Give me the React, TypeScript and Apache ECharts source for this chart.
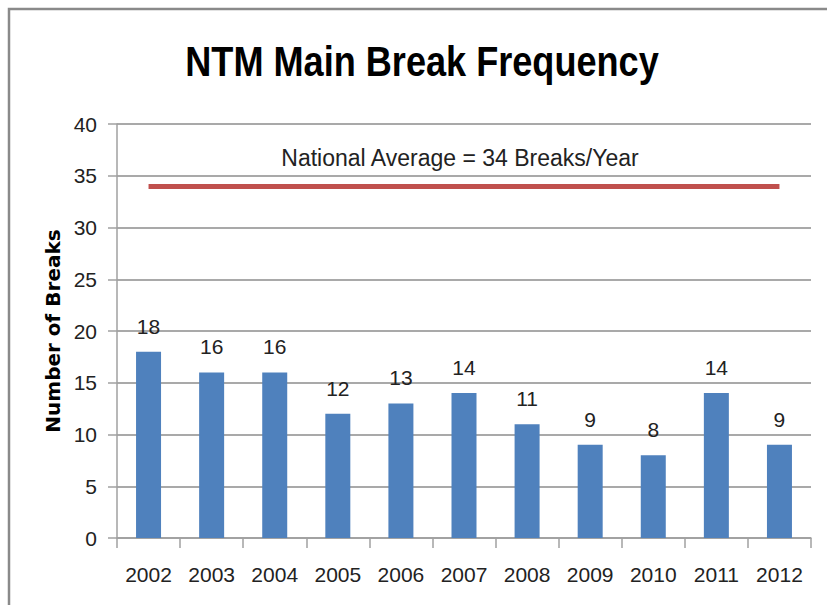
import React, { useEffect, useRef } from "react";
import * as echarts from "echarts";

const years = ["2002", "2003", "2004", "2005", "2006", "2007", "2008", "2009", "2010", "2011", "2012"];
const breaks = [18, 16, 16, 12, 13, 14, 11, 9, 8, 14, 9];
const nationalAverage = 34;
const averageLabel = "National Average = 34 Breaks/Year";
const titleText = "NTM Main Break Frequency";
const yAxisName = "Number of Breaks";

export default function App() {
  const ref = useRef<HTMLDivElement>(null);
  useEffect(() => {
    if (!ref.current) return;
    const chart = echarts.init(ref.current, undefined, { renderer: "svg" });
    const numFont = '"Liberation Sans", Arial, sans-serif';
    chart.setOption({
      animation: false,
      backgroundColor: "#ffffff",
      graphic: [
        {
          type: "rect",
          shape: { x: 9, y: 9, width: 840, height: 620 },
          style: { fill: "none", stroke: "#8a8a8a", lineWidth: 2.5 },
          silent: true,
        },
        {
          type: "text",
          x: 422,
          y: 62,
          scaleX: 0.86,
          style: {
            text: titleText,
            font: 'bold 42px "Liberation Sans", Arial, sans-serif',
            fill: "#000000",
            textAlign: "center",
            textVerticalAlign: "middle",
          },
        },
      ],
      grid: { left: 117, right: 16, top: 124, bottom: 67, containLabel: false },
      xAxis: {
        type: "category",
        data: years,
        axisLine: { show: true, lineStyle: { color: "#a0a0a0", width: 1.5 } },
        axisTick: { show: true, length: 10, alignWithLabel: false, lineStyle: { color: "#a0a0a0", width: 1.5 } },
        axisLabel: { fontFamily: numFont, fontSize: 21, color: "#222", margin: 26 },
      },
      yAxis: {
        type: "value",
        min: 0,
        max: 40,
        interval: 5,
        name: yAxisName,
        nameLocation: "middle",
        nameGap: 54,
        nameTextStyle: {
          fontFamily: '"DejaVu Sans", sans-serif',
          fontWeight: "bold",
          fontSize: 20,
          color: "#000",
        },
        axisLine: { show: true, lineStyle: { color: "#a0a0a0", width: 1.5 } },
        axisTick: { show: true, length: 9, lineStyle: { color: "#a0a0a0", width: 1.5 } },
        axisLabel: { fontFamily: numFont, fontSize: 21, color: "#222", margin: 20 },
        splitLine: { show: true, lineStyle: { color: "#8c8c8c", width: 1.5 } },
      },
      series: [
        {
          type: "bar",
          data: breaks,
          barWidth: 25,
          itemStyle: { color: "#4F81BD" },
          label: {
            show: true,
            position: "top",
            distance: 15,
            fontFamily: numFont,
            fontSize: 21,
            color: "#222",
          },
          markLine: {
            silent: true,
            symbol: ["none", "none"],
            lineStyle: { color: "#C0504D", width: 5, type: "solid" },
            label: {
              show: true,
              position: "middle",
              formatter: averageLabel,
              fontFamily: numFont,
              fontSize: 23,
              color: "#222",
              distance: 17,
              offset: [-4, 0],
            },
            data: [
              [
                { coord: [years[0], nationalAverage] },
                { coord: [years[years.length - 1], nationalAverage] },
              ],
            ],
          },
        },
      ],
    });
    return () => chart.dispose();
  }, []);
  return (
    <div
      ref={ref}
      style={{ position: "absolute", left: 0, top: 0, width: 827, height: 605 }}
    />
  );
}
